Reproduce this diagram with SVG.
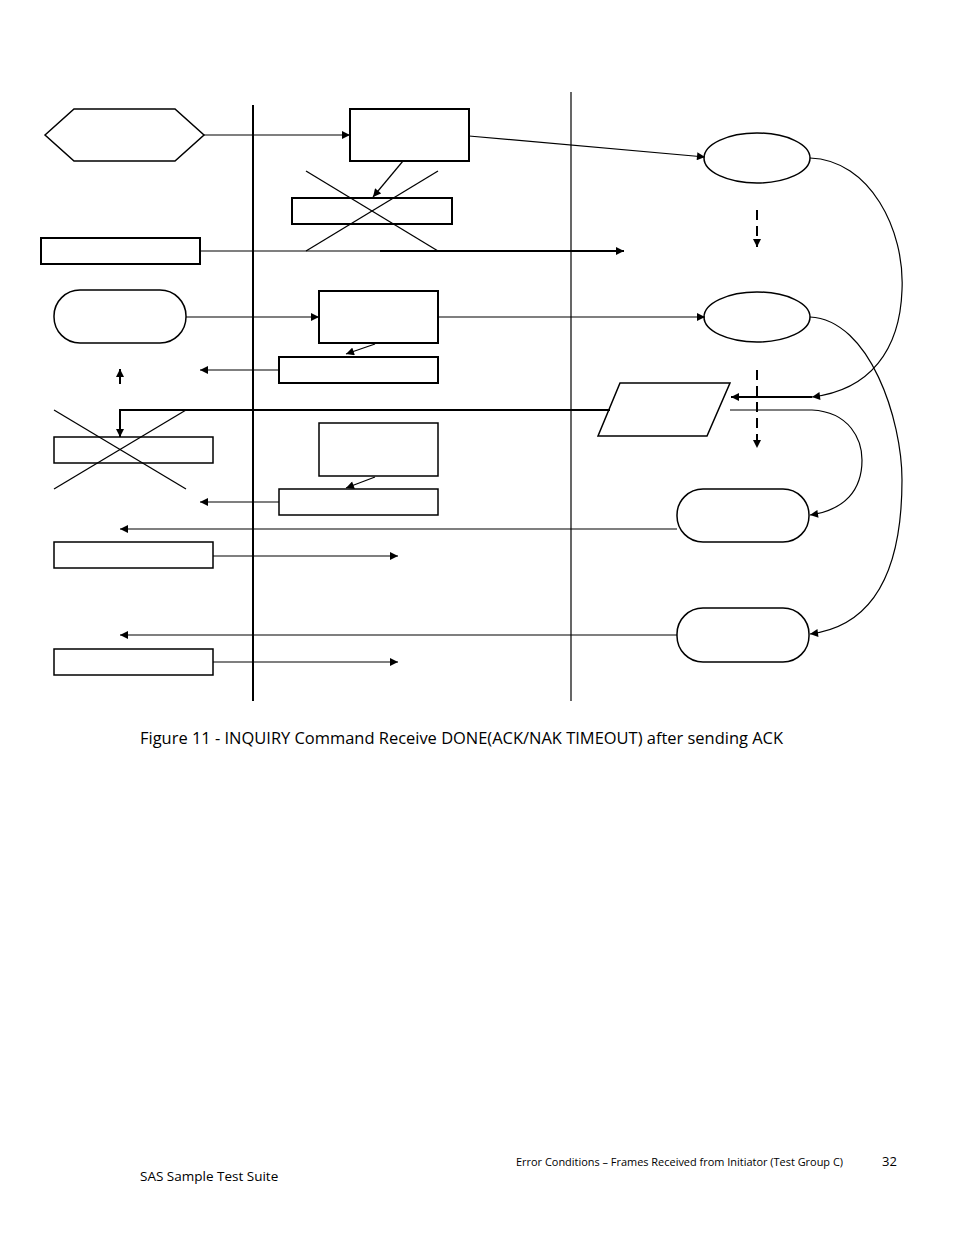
<svg xmlns="http://www.w3.org/2000/svg" width="954" height="1235" viewBox="0 0 954 1235">
<style>
.n{fill:#fff;stroke:#000;stroke-width:1.5}
.t{fill:#fff;stroke:#000;stroke-width:2}
.c{fill:none;stroke:#000;stroke-width:1.2}
.k{fill:none;stroke:#000;stroke-width:2}
.x{stroke:#000;stroke-width:1.3}
text{font-family:"Open Sans","Liberation Sans",sans-serif;fill:#000}
</style>
<defs>
<marker id="a" viewBox="0 0 10 10" refX="10" refY="5" markerWidth="9" markerHeight="8" markerUnits="userSpaceOnUse" orient="auto"><path d="M0,0L10,5L0,10z"/></marker>
</defs>
<rect width="954" height="1235" fill="#fff"/>
<g id="lanes">
<line x1="253" y1="105" x2="253" y2="701" stroke="#000" stroke-width="2"/>
<line x1="571" y1="92" x2="571" y2="701" stroke="#000" stroke-width="1.2"/>
</g>
<g id="hex"><polygon class="n" points="45,135 74,109 175,109 204,135 175,161 74,161"/></g>
<g id="b1"><rect class="t" x="350" y="109" width="119" height="52"/></g>
<g id="b2"><rect class="t" x="292" y="198" width="160" height="26"/></g>
<g id="b3"><rect class="t" x="41" y="238" width="159" height="26"/></g>
<g id="r1"><rect class="n" x="54" y="290" width="132" height="53" rx="26"/></g>
<g id="b4"><rect class="t" x="319" y="291" width="119" height="52"/></g>
<g id="b5"><rect class="t" x="279" y="357" width="159" height="26"/></g>
<g id="b6"><rect class="n" x="54" y="437" width="159" height="26"/></g>
<g id="b7"><rect class="n" x="319" y="423" width="119" height="53"/></g>
<g id="b8"><rect class="n" x="279" y="489" width="159" height="26"/></g>
<g id="b9"><rect class="n" x="54" y="542" width="159" height="26"/></g>
<g id="b10"><rect class="n" x="54" y="649" width="159" height="26"/></g>
<g id="e1"><ellipse class="n" cx="757" cy="158" rx="53" ry="25"/></g>
<g id="e2"><ellipse class="n" cx="757" cy="317" rx="53" ry="25"/></g>
<g id="pg"><polygon class="n" points="620,383 730,383 707,436 598,436"/></g>
<g id="r2"><rect class="n" x="677" y="489" width="132" height="53" rx="26"/></g>
<g id="r3"><rect class="n" x="677" y="608" width="132" height="54" rx="26"/></g>
<g id="crosses">
<line class="x" x1="306" y1="171" x2="438" y2="251"/>
<line class="x" x1="438" y1="171" x2="306" y2="251"/>
<line class="x" x1="54" y1="410" x2="186" y2="489"/>
<line class="x" x1="186" y1="410" x2="54" y2="489"/>
</g>
<g id="connectors">
<path class="c" d="M204,135H350" marker-end="url(#a)"/>
<path class="c" d="M469,136L705,157" marker-end="url(#a)"/>
<path class="c" d="M403,161L373,197" marker-end="url(#a)"/>
<path class="c" d="M200,251H380"/>
<path class="k" d="M380,251H624" marker-end="url(#a)"/>
<path class="c" d="M186,317H319" marker-end="url(#a)"/>
<path class="c" d="M438,317H705" marker-end="url(#a)"/>
<path class="c" d="M375,344L346,354" marker-end="url(#a)"/>
<path class="c" d="M279,370H200" marker-end="url(#a)"/>
<path class="k" d="M120,384V369" marker-end="url(#a)"/>
<path class="k" d="M610,410H120V437" marker-end="url(#a)"/>
<path class="c" d="M375,477L346,488" marker-end="url(#a)"/>
<path class="c" d="M279,502H200" marker-end="url(#a)"/>
<path class="c" d="M677,529H120" marker-end="url(#a)"/>
<path class="c" d="M213,556H398" marker-end="url(#a)"/>
<path class="c" d="M677,635H120" marker-end="url(#a)"/>
<path class="c" d="M213,662H398" marker-end="url(#a)"/>
<path class="k" d="M757,210V247" stroke-dasharray="10,6" marker-end="url(#a)"/>
<path class="k" d="M757,370V448" stroke-dasharray="10,6" marker-end="url(#a)"/>
<path class="c" d="M810,158C870,160 905,230 902,290C900,350 870,390 812,397" marker-end="url(#a)"/>
<path class="k" d="M812,397H731" marker-end="url(#a)"/>
<path class="c" d="M730,410H812C850,412 862,440 862,460C862,490 845,510 810,515" marker-end="url(#a)"/>
<path class="c" d="M810,317C870,320 902,420 902,480C902,560 880,625 810,634" marker-end="url(#a)"/>
</g>
<text x="140" y="744" font-size="16" textLength="643" lengthAdjust="spacingAndGlyphs">Figure 11 - INQUIRY Command Receive DONE(ACK/NAK TIMEOUT) after sending ACK</text>
<text x="516" y="1166" font-size="10.5" textLength="327" lengthAdjust="spacingAndGlyphs">Error Conditions – Frames Received from Initiator (Test Group C)</text>
<text x="882" y="1166" font-size="13">32</text>
<text x="140" y="1181" font-size="13.5">SAS Sample Test Suite</text>
</svg>
